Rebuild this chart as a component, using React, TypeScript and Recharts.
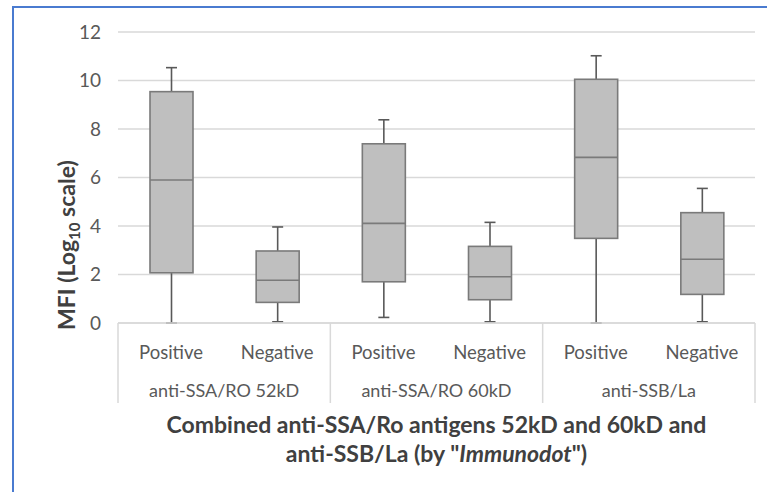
import React from 'react';
import { ComposedChart, Bar, XAxis, YAxis, CartesianGrid } from 'recharts';

const groups = ['anti-SSA/RO 52kD', 'anti-SSA/RO 60kD', 'anti-SSB/La'];
const statuses = ['Positive', 'Negative'];
const minValues = [0, 0.05, 0.23, 0.05, 0, 0.05];
const q1Values = [2.07, 0.85, 1.7, 0.96, 3.49, 1.18];
const medianValues = [5.9, 1.76, 4.11, 1.91, 6.83, 2.63];
const q3Values = [9.54, 2.97, 7.39, 3.16, 10.05, 4.55];
const maxValues = [10.53, 3.96, 8.38, 4.15, 11.02, 5.55];
const yTicks = [0, 2, 4, 6, 8, 10, 12];

const data = groups.flatMap((g, gi) =>
  statuses.map((s, si) => {
    const i = gi * statuses.length + si;
    return {
      key: `${g}|${s}`,
      group: g,
      status: s,
      min: minValues[i],
      q1: q1Values[i],
      median: medianValues[i],
      q3: q3Values[i],
      max: maxValues[i],
    };
  })
);

const W = 767;
const H = 492;
const MARGIN = { top: 32, right: 12, bottom: 0, left: 0 };
const Y_AXIS_W = 118;
const X_AXIS_H = 169;
const FONT = 'Lato, "Open Sans", sans-serif';
const TICK_COLOR = '#595959';
const LINE_COLOR = '#d9d9d9';

const BoxShape = (props: any) => {
  const { x, y, width, height, payload } = props;
  if (!payload) return null;
  const top = Math.min(y, y + height);
  const h = Math.abs(height);
  const span = payload.max - payload.min;
  const k = span > 0 ? h / span : 0;
  const py = (v: number) => top + (payload.max - v) * k;
  const cx = x + width / 2;
  const cap = 5.5;
  const wStroke = '#595959';
  return (
    <g>
      <line x1={cx} x2={cx} y1={py(payload.max)} y2={py(payload.q3)} stroke={wStroke} strokeWidth={1.6} />
      <line x1={cx - cap} x2={cx + cap} y1={py(payload.max)} y2={py(payload.max)} stroke={wStroke} strokeWidth={1.6} />
      <line x1={cx} x2={cx} y1={py(payload.q1)} y2={py(payload.min)} stroke={wStroke} strokeWidth={1.6} />
      <line x1={cx - cap} x2={cx + cap} y1={py(payload.min)} y2={py(payload.min)} stroke={wStroke} strokeWidth={1.6} />
      <rect
        x={x}
        y={py(payload.q3)}
        width={width}
        height={py(payload.q1) - py(payload.q3)}
        fill="#bfbfbf"
        stroke="#7a7a7a"
        strokeWidth={1.6}
      />
      <line x1={x} x2={x + width} y1={py(payload.median)} y2={py(payload.median)} stroke="#7a7a7a" strokeWidth={1.6} />
    </g>
  );
};

const CatTick = (props: any) => {
  const { x, y, payload, index, visibleTicksCount } = props;
  const count = visibleTicksCount || data.length;
  const plotW = typeof props.width === 'number' ? props.width : W - MARGIN.left - MARGIN.right - Y_AXIS_W;
  const band = plotW / count;
  const entry = data.find((d) => d.key === payload.value) || data[index];
  const perGroup = statuses.length;
  const isGroupStart = index % perGroup === 0;
  const isLast = index === count - 1;
  const lineBottom = y + 80;
  return (
    <g>
      {isGroupStart && (
        <line x1={x - band / 2} x2={x - band / 2} y1={y} y2={lineBottom} stroke={LINE_COLOR} strokeWidth={1.5} />
      )}
      {isLast && (
        <line x1={x + band / 2} x2={x + band / 2} y1={y} y2={lineBottom} stroke={LINE_COLOR} strokeWidth={1.5} />
      )}
      <text x={x} y={y + 29} textAnchor="middle" dominantBaseline="central" fill={TICK_COLOR} fontSize={18.5} fontFamily={FONT}>
        {entry.status}
      </text>
      {isGroupStart && (
        <text
          x={x + (band * (perGroup - 1)) / 2}
          y={y + 67}
          textAnchor="middle"
          dominantBaseline="central"
          fill={TICK_COLOR}
          fontSize={18}
          fontFamily={FONT}
        >
          {entry.group}
        </text>
      )}
    </g>
  );
};

const XTitle = (props: any) => {
  const vb = props.viewBox || { x: 0, y: 0, width: 0, height: 0 };
  const cx = vb.x + vb.width / 2;
  return (
    <g>
      <text x={cx} y={vb.y + 101} textAnchor="middle" dominantBaseline="central" fill="#404040" fontSize={23} fontWeight="bold" fontFamily={FONT}>
        Combined anti-SSA/Ro antigens 52kD and 60kD and
      </text>
      <text x={cx} y={vb.y + 130} textAnchor="middle" dominantBaseline="central" fill="#404040" fontSize={23} fontWeight="bold" fontFamily={FONT}>
        anti-SSB/La (by "<tspan fontStyle="italic">Immunodot</tspan>")
      </text>
    </g>
  );
};

const YTitle = (props: any) => {
  const vb = props.viewBox || { x: 0, y: 0, width: 0, height: 0 };
  const bx = vb.x + 75;
  const by = vb.y + vb.height + 7;
  return (
    <text
      x={bx}
      y={by}
      transform={`rotate(-90, ${bx}, ${by})`}
      textAnchor="start"
      fill="#404040"
      fontSize={23}
      fontWeight="bold"
      fontFamily={FONT}
    >
      MFI (Log
      <tspan fontSize={15} dy={5}>10</tspan>
      <tspan dy={-5}> scale)</tspan>
    </text>
  );
};

export default function App() {
  return (
    <div style={{ position: 'absolute', left: 0, top: 0, width: W, height: H, background: '#ffffff', overflow: 'hidden' }}>
      <div
        style={{
          position: 'absolute',
          left: 12,
          top: 6,
          width: W,
          height: H,
          borderLeft: '2px solid #4a7bd0',
          borderTop: '2px solid #4a7bd0',
          boxSizing: 'border-box',
        }}
      />
      <div style={{ position: 'absolute', left: 0, top: 0 }}>
        <ComposedChart width={W} height={H} data={data} margin={MARGIN}>
          <CartesianGrid vertical={false} stroke={LINE_COLOR} strokeWidth={1.5} />
          <XAxis
            dataKey="key"
            height={X_AXIS_H}
            interval={0}
            tickLine={false}
            tickSize={0}
            tickMargin={0}
            axisLine={{ stroke: LINE_COLOR, strokeWidth: 1.5 }}
            tick={<CatTick />}
            label={{ content: <XTitle /> }}
          />
          <YAxis
            width={Y_AXIS_W}
            domain={[0, 12]}
            ticks={yTicks}
            interval={0}
            axisLine={false}
            tickLine={false}
            tickSize={0}
            tickMargin={17}
            tick={{ fill: TICK_COLOR, fontSize: 19, fontFamily: FONT }}
            label={{ content: <YTitle /> }}
          />
          <Bar
            dataKey={(d: any) => [d.min, d.max]}
            barSize={43}
            shape={<BoxShape />}
            isAnimationActive={false}
          />
        </ComposedChart>
      </div>
    </div>
  );
}
